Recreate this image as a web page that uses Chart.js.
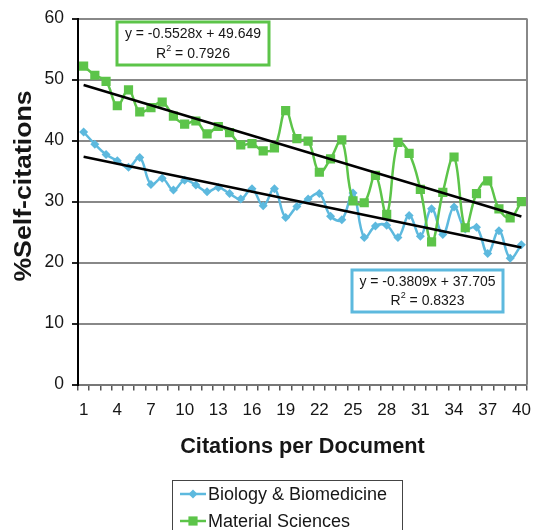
<!DOCTYPE html>
<html>
<head>
<meta charset="utf-8">
<script src="https://cdn.jsdelivr.net/npm/chart.js@4/dist/chart.umd.min.js"></script>
<style>
  body { margin: 0; background: #fff; }
  #wrap { width: 534px; height: 530px; }
</style>
</head>
<body>
<div id="wrap"><canvas id="myChart" width="534" height="530"></canvas></div>
<script>
// citations per document (x categories) and the labelled ticks
const categories = [1, 2, 3, 4, 5, 6, 7, 8, 9, 10, 11, 12, 13, 14, 15, 16, 17, 18, 19, 20,
  21, 22, 23, 24, 25, 26, 27, 28, 29, 30, 31, 32, 33, 34, 35, 36, 37, 38, 39, 40];
const xTickLabels = [1, 4, 7, 10, 13, 16, 19, 22, 25, 28, 31, 34, 37, 40];
const yTicks = [0, 10, 20, 30, 40, 50, 60];

// % self-citations
const bioValues = [41.4, 39.4, 37.7, 36.7, 35.6, 37.2, 32.8, 33.8, 31.9, 33.5,
  32.7, 31.6, 32.3, 31.3, 30.4, 32.1, 29.3, 32.1, 27.4, 29.2,
  30.4, 31.3, 27.6, 27.0, 31.4, 24.1, 26.0, 26.1, 24.1, 27.7,
  24.3, 28.8, 24.6, 29.1, 25.5, 25.8, 21.5, 25.2, 20.7, 22.9];
const matValues = [52.2, 50.7, 49.7, 45.7, 48.3, 44.7, 45.4, 46.3, 44.0, 42.7,
  43.2, 41.1, 42.3, 41.3, 39.3, 39.5, 38.3, 38.8, 44.9, 40.3,
  39.9, 34.8, 37.0, 40.1, 30.1, 29.8, 34.3, 27.9, 39.7, 37.9,
  32.0, 23.4, 31.5, 37.3, 25.7, 31.3, 33.4, 28.8, 27.3, 30.0];

// linear fits: [slope, intercept, r2]
const bioFit = [-0.3809, 37.705, 0.8323];
const matFit = [-0.5528, 49.649, 0.7926];

const FONT = "'Liberation Sans', Arial, Helvetica, sans-serif";
const BLUE = '#5db9de';
const GREEN = '#5cc449';
const TEXT = '#161616';

function toPoints(vals) {
  return categories.map((c, i) => ({ x: c, y: vals[i] }));
}

function trendPoints(fit) {
  const a = categories[0], b = categories[categories.length - 1];
  return [{ x: a, y: fit[1] + fit[0] * a }, { x: b, y: fit[1] + fit[0] * b }];
}

function drawFitBox(ctx, box, color, fit) {
  ctx.save();
  ctx.fillStyle = '#fff';
  ctx.fillRect(box.x, box.y, box.w, box.h);
  ctx.strokeStyle = color;
  ctx.lineWidth = 3;
  ctx.strokeRect(box.x, box.y, box.w, box.h);

  const cx = box.x + box.w / 2;
  ctx.fillStyle = TEXT;
  ctx.textBaseline = 'middle';
  ctx.textAlign = 'center';
  ctx.font = '14px ' + FONT;
  ctx.fillText('y = ' + fit[0] + 'x + ' + fit[1], cx, box.y + 12);

  // R² line with a small raised 2
  const y2 = box.y + box.h - 11;
  const rest = ' = ' + fit[2];
  ctx.textAlign = 'left';
  const wR = ctx.measureText('R').width;
  const wRest = ctx.measureText(rest).width;
  ctx.font = '9px ' + FONT;
  const w2 = ctx.measureText('2').width;
  const x0 = cx - (wR + w2 + wRest) / 2;
  ctx.font = '14px ' + FONT;
  ctx.fillText('R', x0, y2);
  ctx.fillText(rest, x0 + wR + w2, y2);
  ctx.font = '9px ' + FONT;
  ctx.fillText('2', x0 + wR, y2 - 5);
  ctx.restore();
}

function drawLegendItem(ctx, x, y, color, style, r, text) {
  ctx.save();
  ctx.strokeStyle = color;
  ctx.lineWidth = 2.5;
  ctx.beginPath();
  ctx.moveTo(x, y);
  ctx.lineTo(x + 26, y);
  ctx.stroke();
  ctx.fillStyle = color;
  Chart.helpers.drawPoint(ctx, { pointStyle: style, radius: r, borderWidth: 0 }, x + 13, y);
  ctx.fillStyle = TEXT;
  ctx.font = '18px ' + FONT;
  ctx.textBaseline = 'middle';
  ctx.fillText(text, x + 28, y + 1);
  ctx.restore();
}

const extras = {
  id: 'extras',
  afterDraw(chart) {
    const ctx = chart.ctx;
    const area = chart.chartArea;

    // right edge of the plot frame
    ctx.save();
    ctx.strokeStyle = '#888';
    ctx.lineWidth = 2;
    ctx.beginPath();
    ctx.moveTo(area.right, area.top);
    ctx.lineTo(area.right, area.bottom);
    ctx.stroke();
    ctx.restore();

    // y axis title, a little stretched along its length
    ctx.save();
    ctx.translate(25, 186);
    ctx.rotate(-Math.PI / 2);
    ctx.scale(1.16, 1);
    ctx.font = 'bold 23px ' + FONT;
    ctx.fillStyle = TEXT;
    ctx.textAlign = 'center';
    ctx.textBaseline = 'middle';
    ctx.fillText('%Self-citations', 0, 0);
    ctx.restore();

    drawFitBox(ctx, { x: 117, y: 22, w: 152, h: 43 }, GREEN, matFit);
    drawFitBox(ctx, { x: 352, y: 270, w: 151, h: 42 }, BLUE, bioFit);

    // legend
    ctx.save();
    ctx.strokeStyle = '#444';
    ctx.lineWidth = 1;
    ctx.strokeRect(172.5, 480.5, 230, 70);
    ctx.restore();
    drawLegendItem(ctx, 180, 494, BLUE, 'rectRot', 4.5, 'Biology & Biomedicine');
    drawLegendItem(ctx, 180, 521, GREEN, 'rect', 6.5, 'Material Sciences');
  }
};

const config = {
  type: 'line',
  data: {
    datasets: [
      {
        label: 'Material Sciences trend',
        data: trendPoints(matFit),
        borderColor: '#000',
        borderWidth: 2.5,
        pointRadius: 0
      },
      {
        label: 'Biology & Biomedicine trend',
        data: trendPoints(bioFit),
        borderColor: '#000',
        borderWidth: 2.5,
        pointRadius: 0
      },
      {
        label: 'Material Sciences',
        data: toPoints(matValues),
        borderColor: GREEN,
        backgroundColor: GREEN,
        borderWidth: 2.5,
        pointStyle: 'rect',
        pointRadius: 6.5,
        pointBorderWidth: 0,
        tension: 0.4
      },
      {
        label: 'Biology & Biomedicine',
        data: toPoints(bioValues),
        borderColor: BLUE,
        backgroundColor: BLUE,
        borderWidth: 2.5,
        pointStyle: 'rectRot',
        pointRadius: 4.5,
        pointBorderWidth: 0,
        tension: 0.4
      }
    ]
  },
  options: {
    responsive: false,
    animation: false,
    layout: { padding: { left: 5, right: 7, top: 8, bottom: 66 } },
    plugins: { legend: { display: false }, tooltip: { enabled: false } },
    scales: {
      x: {
        type: 'linear',
        min: 0.5,
        max: 40.5,
        afterBuildTicks: (s) => {
          // a tick mark between every category, labels sit on the categories
          const t = [];
          for (let v = 0.5; v <= 40.5; v += 0.5) t.push({ value: v });
          s.ticks = t;
        },
        afterFit: (s) => { s.paddingLeft = 0; s.paddingRight = 0; },
        grid: {
          drawOnChartArea: false,
          tickLength: 6,
          lineWidth: 1.5,
          color: (c) => (c.tick && Number.isInteger(c.tick.value)) ? 'rgba(0,0,0,0)' : '#555'
        },
        border: { color: '#777', width: 2 },
        ticks: {
          autoSkip: false,
          maxRotation: 0,
          padding: 10,
          color: TEXT,
          font: { family: FONT, size: 17 },
          callback: (v) => xTickLabels.includes(v) ? String(v) : ''
        },
        title: {
          display: true,
          text: 'Citations per Document',
          color: TEXT,
          font: { family: FONT, size: 21.7, weight: 'bold' },
          padding: { top: 3, bottom: 4 }
        }
      },
      y: {
        min: 0,
        max: 60,
        afterBuildTicks: (s) => { s.ticks = yTicks.map((v) => ({ value: v })); },
        afterFit: (s) => { s.width = 73; },
        grid: { color: '#888', lineWidth: 2, tickColor: '#222', tickLength: 6 },
        border: { color: '#000', width: 2 },
        ticks: {
          padding: 8,
          color: TEXT,
          font: { family: FONT, size: 17.5 }
        }
      }
    }
  },
  plugins: [extras]
};

const myChart = new Chart(document.getElementById('myChart'), config);
</script>
</body>
</html>
